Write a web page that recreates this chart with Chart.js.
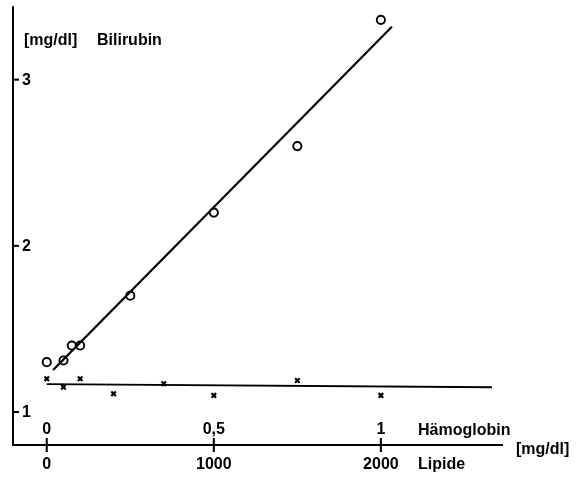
<!DOCTYPE html>
<html>
<head>
<meta charset="utf-8">
<script src="https://cdn.jsdelivr.net/npm/chart.js@4"></script>
<style>
html,body{margin:0;padding:0;background:#fff;}
#wrap{width:586px;height:477px;}
</style>
</head>
<body>
<div id="wrap"><canvas id="c" width="586" height="477"></canvas></div>
<script>
// Lipide concentration [mg/dl] (x), Bilirubin [mg/dl] (y)
const bilirubinX = [0, 100, 150, 200, 500, 1000, 1500, 2000];
const bilirubinY = [1.30, 1.31, 1.40, 1.40, 1.70, 2.20, 2.60, 3.36];
const crossX = [0, 100, 200, 400, 700, 1000, 1500, 2000];
const crossY = [1.20, 1.15, 1.20, 1.11, 1.17, 1.10, 1.19, 1.10];
const fitLineX = [38, 2066];
const fitLineY = [1.253, 3.318];
const flatLineX = [0, 2665];
const flatLineY = [1.168, 1.149];
const yTicks = [1, 2, 3];
const yTickLabels = ['1', '2', '3'];
const lipideTicks = [0, 1000, 2000];
const lipideLabels = ['0', '1000', '2000'];
const hbTicks = [0, 0.5, 1];
const hbLabels = ['0', '0,5', '1'];
const hbToLipide = 2000;

const toPts = (xs, ys) => xs.map((x, i) => ({x: x, y: ys[i]}));
const FONT = '"Liberation Sans", Arial, Helvetica, sans-serif';

const axesPlugin = {
  id: 'oldAxes',
  beforeDatasetsDraw(chart) {
    const ctx = chart.ctx;
    const xs = chart.scales.x, ys = chart.scales.y;
    const ca = chart.chartArea;
    ctx.save();
    ctx.strokeStyle = '#000';
    ctx.fillStyle = '#000';
    ctx.lineWidth = 2;
    ctx.lineCap = 'butt';
    // axis lines
    ctx.beginPath();
    ctx.moveTo(ca.left, ca.top);
    ctx.lineTo(ca.left, ca.bottom);
    ctx.lineTo(ca.right, ca.bottom);
    ctx.stroke();
    // y ticks
    ctx.font = 'bold 16px ' + FONT;
    ctx.textAlign = 'left';
    ctx.textBaseline = 'middle';
    yTicks.forEach((v, i) => {
      const py = ys.getPixelForValue(v);
      ctx.beginPath();
      ctx.moveTo(ca.left, py);
      ctx.lineTo(ca.left + 6, py);
      ctx.stroke();
      ctx.fillText(yTickLabels[i], ca.left + 9, py + 1);
    });
    // x ticks
    ctx.textAlign = 'center';
    lipideTicks.forEach((v, i) => {
      const px = xs.getPixelForValue(v);
      ctx.beginPath();
      ctx.moveTo(px, ca.bottom - 7);
      ctx.lineTo(px, ca.bottom + 7);
      ctx.stroke();
      ctx.fillText(lipideLabels[i], px, ca.bottom + 20);
    });
    hbTicks.forEach((v, i) => {
      const px = xs.getPixelForValue(v * hbToLipide);
      ctx.fillText(hbLabels[i], px, ca.bottom - 15);
    });
    // titles
    ctx.font = 'bold 16px ' + FONT;
    ctx.textAlign = 'left';
    ctx.fillText('[mg/dl]', 24, 41);
    ctx.fillText('Bilirubin', 97, 41);
    ctx.fillText('Hämoglobin', 418, ca.bottom - 14);
    ctx.fillText('[mg/dl]', 516, ca.bottom + 5);
    ctx.fillText('Lipide', 418, ca.bottom + 20);
    ctx.restore();
  }
};

new Chart(document.getElementById('c'), {
  type: 'scatter',
  data: {
    datasets: [
      {
        label: 'Fit Bilirubin',
        data: toPts(fitLineX, fitLineY),
        showLine: true,
        borderColor: '#000',
        borderWidth: 2.2,
        pointRadius: 0,
        order: 3
      },
      {
        label: 'Fit flat',
        data: toPts(flatLineX, flatLineY),
        showLine: true,
        borderColor: '#000',
        borderWidth: 1.8,
        pointRadius: 0,
        order: 3
      },
      {
        label: 'Bilirubin',
        data: toPts(bilirubinX, bilirubinY),
        pointStyle: 'circle',
        pointRadius: 4.1,
        pointBorderWidth: 1.9,
        pointBackgroundColor: 'rgba(255,255,255,0)',
        pointBorderColor: '#000',
        order: 1
      },
      {
        label: 'Kreuze',
        data: toPts(crossX, crossY),
        pointStyle: 'crossRot',
        pointRadius: 3.2,
        pointBorderWidth: 2.2,
        pointBorderColor: '#000',
        order: 2
      }
    ]
  },
  options: {
    responsive: false,
    animation: false,
    clip: false,
    layout: {padding: {left: 13, top: 6, right: 83, bottom: 32}},
    plugins: {legend: {display: false}, tooltip: {enabled: false}},
    scales: {
      x: {type: 'linear', display: false, min: -202, max: 2731},
      y: {type: 'linear', display: false, min: 0.8015, max: 3.442}
    }
  },
  plugins: [axesPlugin]
});
</script>
</body>
</html>
